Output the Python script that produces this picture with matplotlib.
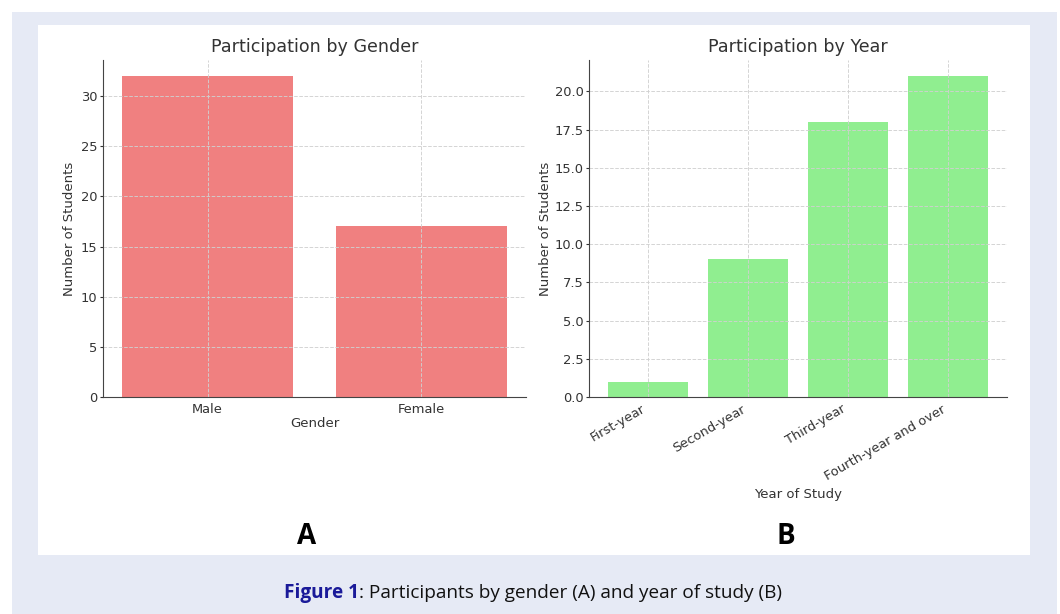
import matplotlib.pyplot as plt
from matplotlib.patches import Rectangle

genders = ["Male", "Female"]
gender_counts = [32, 17]

years = ["First-year", "Second-year", "Third-year", "Fourth-year and over"]
year_counts = [1, 9, 18, 21]

W, H = 1060, 614
fig = plt.figure(figsize=(W / 100, H / 100), dpi=100)
fig.patch.set_facecolor("white")


def px_rect(x0, y0, x1, y1):
    # pixel box (top-left origin) -> figure fraction
    return [x0 / W, 1 - y1 / H, (x1 - x0) / W, (y1 - y0) / H]


# page background and white panel
bg = px_rect(12, 12, 1057, 614)
fig.patches.append(Rectangle(bg[:2], bg[2], bg[3], transform=fig.transFigure,
                             facecolor="#e6eaf5", edgecolor="none", zorder=-2))
pn = px_rect(38, 25, 1030, 555)
fig.patches.append(Rectangle(pn[:2], pn[2], pn[3], transform=fig.transFigure,
                             facecolor="white", edgecolor="none", zorder=-1))

txt = "#333333"
plt.rcParams["font.family"] = "DejaVu Sans"


def style(ax):
    ax.spines["top"].set_visible(False)
    ax.spines["right"].set_visible(False)
    for s in ("left", "bottom"):
        ax.spines[s].set_color("#444444")
    ax.grid(True, linestyle="--", color="#d0d0d0", linewidth=0.7, alpha=0.9)
    ax.tick_params(axis="x", length=0, labelsize=9.4, colors=txt, pad=4)
    ax.tick_params(axis="y", length=2.5, labelsize=9.4, colors=txt, pad=1.5)
    ax.set_facecolor("none")


ax1 = fig.add_axes(px_rect(103, 60, 526, 397))
ax1.bar(genders, gender_counts, color="lightcoral", width=0.8)
style(ax1)
ax1.set_title("Participation by Gender", fontsize=12.6, color=txt, pad=6)
ax1.set_xlabel("Gender", fontsize=9.5, color=txt, labelpad=1)
ax1.set_ylabel("Number of Students", fontsize=9.5, color=txt, labelpad=3.5)

ax2 = fig.add_axes(px_rect(589, 60, 1007, 397))
ax2.bar(years, year_counts, color="lightgreen", width=0.8)
style(ax2)
ax2.set_xticks(range(len(years)))
ax2.set_xticklabels(years, rotation=30, ha="right")
ax2.set_title("Participation by Year", fontsize=12.6, color=txt, pad=6)
ax2.set_xlabel("Year of Study", fontsize=9.5, color=txt, labelpad=4)
ax2.set_ylabel("Number of Students", fontsize=9.5, color=txt, labelpad=1.5)

# panel letters
fig.text(307 / W, 1 - 537 / H, "A", fontsize=20, fontweight="bold",
         ha="center", va="center", color="black", family="Open Sans")
fig.text(786 / W, 1 - 537 / H, "B", fontsize=20, fontweight="bold",
         ha="center", va="center", color="black", family="Open Sans")

# caption
cap_y = 1 - 593 / H
t1 = fig.text(284 / W, cap_y, "Figure 1", fontsize=13.7, fontweight="bold",
              color="#1a1a99", ha="left", va="center", family="Open Sans")
fig.canvas.draw()
bb = t1.get_window_extent()
fig.text(bb.x1 / W, cap_y, ": Participants by gender (A) and year of study (B)",
         fontsize=13.7, color="#111111", ha="left", va="center", family="Open Sans")

fig.savefig("out.png", dpi=100)
